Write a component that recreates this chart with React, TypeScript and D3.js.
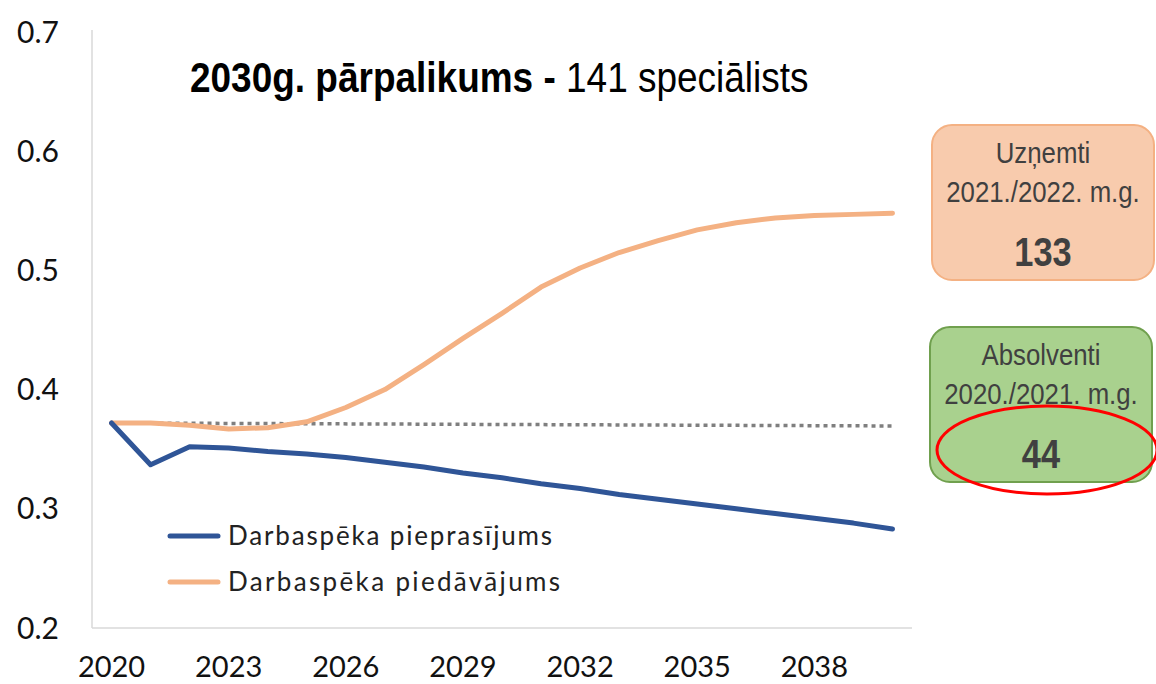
import React from 'react';
import * as d3 from 'd3';

const years = d3.range(2020, 2041);
const demand = [0.372, 0.337, 0.352, 0.351, 0.348, 0.346, 0.343, 0.339, 0.335, 0.330, 0.326,
  0.321, 0.317, 0.312, 0.308, 0.304, 0.300, 0.296, 0.292, 0.288, 0.283];
const supply = [0.372, 0.372, 0.370, 0.367, 0.368, 0.373, 0.385, 0.400, 0.421, 0.443, 0.464,
  0.486, 0.502, 0.515, 0.525, 0.534, 0.540, 0.544, 0.546, 0.547, 0.548];
const trendYears = [2020, 2040];
const trendValues = [0.372, 0.3695];
const yTicks = [0.2, 0.3, 0.4, 0.5, 0.6, 0.7];
const xTickLabels = [2020, 2023, 2026, 2029, 2032, 2035, 2038];
const seriesNames = ['Darbaspēka pieprasījums', 'Darbaspēka piedāvājums'];
const seriesColors = ['#2f5597', '#f4b183'];

const boxes = [
  { lines: ['Uzņemti', '2021./2022. m.g.'], value: '133', fill: '#f8cbad', stroke: '#f4b183' },
  { lines: ['Absolventi', '2020./2021. m.g.'], value: '44', fill: '#a9d18e', stroke: '#70a04e' },
];

const W = 1156;
const H = 684;
const axisFont = "Lato, 'DejaVu Sans', sans-serif";
const narrowFont = "'Liberation Sans Narrow', 'Arial Narrow', 'Liberation Sans', sans-serif";
// no narrow face installed, so squeeze Liberation Sans sideways
const squeeze = 0.86;

const App = () => {
  // plot area
  const left = 92, right = 912, top = 32, bottom = 628;

  const x = d3.scalePoint<number>().domain(years).range([left, right]).padding(0.5);
  const y = d3.scaleLinear().domain([0.2, 0.7]).range([bottom, top]);

  const line = d3.line<number>()
    .x((d, i) => x(years[i]) as number)
    .y(d => y(d));

  const trendLine = d3.line<number>()
    .x((d, i) => x(trendYears[i]) as number)
    .y(d => y(d));

  // legend
  const legend_x = 168;
  const legend_y = 536;
  const legend_space = 46;
  const legend_text_w = [324, 332];

  // boxes
  const box_x = [932, 930];
  const box_y = [125, 327];
  const box_w = 222;
  const box_h = 155;

  return (
    <svg width={W} height={H} style={{ position: 'absolute', left: 0, top: 0, background: '#fff' }}>
      {/* axes lines */}
      <line x1={left} x2={left} y1={top - 2} y2={bottom} stroke="#d9d9d9" strokeWidth={1.5} />
      <line x1={left} x2={right} y1={bottom} y2={bottom} stroke="#d9d9d9" strokeWidth={1.5} />

      {/* y tick labels */}
      {yTicks.map(t => (
        <text key={t} x={59} y={y(t)} dy="0.35em" textAnchor="end"
          fontFamily={axisFont} fontSize={30} fill="#111">{t.toFixed(1)}</text>
      ))}

      {/* x tick labels */}
      {xTickLabels.map(t => (
        <text key={t} x={x(t) as number} y={677} textAnchor="middle"
          fontFamily={axisFont} fontSize={29} fill="#111">{t}</text>
      ))}

      {/* dotted trend */}
      <path d={trendLine(trendValues) || ''} fill="none" stroke="#7f7f7f" strokeWidth={3.5}
        strokeDasharray="4,4" />

      {/* series */}
      <path d={line(supply) || ''} fill="none" stroke={seriesColors[1]} strokeWidth={5}
        strokeLinejoin="round" strokeLinecap="round" />
      <path d={line(demand) || ''} fill="none" stroke={seriesColors[0]} strokeWidth={5}
        strokeLinejoin="round" strokeLinecap="round" />

      {/* legend */}
      {seriesNames.map((name, i) => (
        <g key={name} transform={`translate(${legend_x},${legend_y + i * legend_space})`}>
          <line x1={2} x2={50} y1={0} y2={0} stroke={seriesColors[i]} strokeWidth={5} strokeLinecap="round" />
          <text x={60} y={0} dy="0.35em" fontFamily={axisFont} fontSize={26} fill="#222"
            textLength={legend_text_w[i]} lengthAdjust="spacing">{name}</text>
        </g>
      ))}

      {/* title */}
      <g transform={`translate(190,92) scale(${squeeze},1)`}>
        <text x={0} y={0} fontFamily={narrowFont} fontSize={43} fill="#000">
          <tspan fontWeight="bold">2030g. pārpalikums - </tspan>
          <tspan>141 speciālists</tspan>
        </text>
      </g>

      {/* info boxes */}
      {boxes.map((b, i) => {
        const cx = box_x[i] + box_w / 2;
        return (
          <g key={b.value}>
            <rect x={box_x[i]} y={box_y[i]} width={box_w} height={box_h} rx={20}
              fill={b.fill} stroke={b.stroke} strokeWidth={2} />
            <g transform={`translate(${cx},0) scale(${squeeze},1)`}>
              <text x={0} y={box_y[i] + 38} textAnchor="middle" fontFamily={narrowFont}
                fontSize={30} fill="#404040">{b.lines[0]}</text>
              <text x={0} y={box_y[i] + 77} textAnchor="middle" fontFamily={narrowFont}
                fontSize={30} fill="#404040">{b.lines[1]}</text>
              <text x={0} y={box_y[i] + 141} textAnchor="middle" fontFamily={narrowFont}
                fontSize={40} fontWeight="bold" fill="#404040">{b.value}</text>
            </g>
          </g>
        );
      })}

      {/* highlight ellipse */}
      <ellipse cx={1047} cy={450} rx={110} ry={44} fill="none" stroke="#ff0000" strokeWidth={3} />
    </svg>
  );
};

export default App;
